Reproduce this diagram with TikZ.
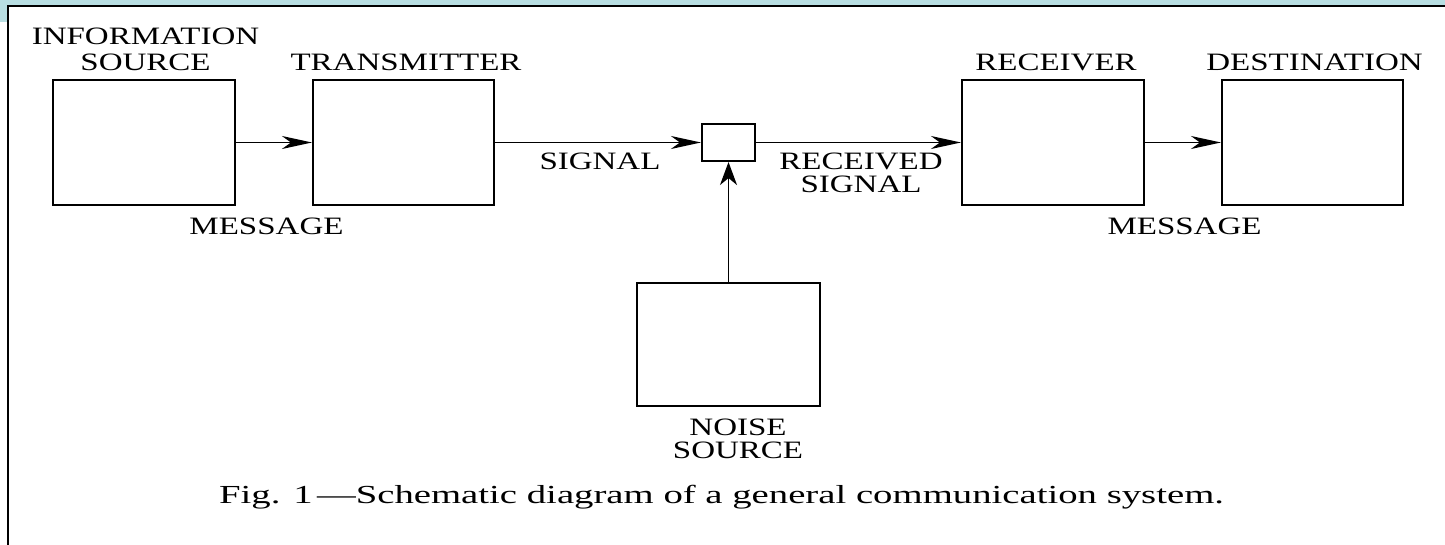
\documentclass[tikz,border=0pt]{standalone}
\usepackage{fontspec}
\setmainfont{Liberation Serif}
\newfontfamily\labelfont[FakeStretch=1.32]{Liberation Serif}
\newfontfamily\captionfont[FakeStretch=1.49]{Liberation Serif}
\usetikzlibrary{arrows.meta, positioning}
\definecolor{framebg}{RGB}{184, 222, 226}
\tikzset{
    block/.style={rectangle, draw, line width=2.1pt, inner sep=0pt, minimum width=182pt, minimum height=125pt},
    tag/.style={inner sep=0pt, anchor=north, align=center, font=\labelfont\fontsize{25}{24}\selectfont}
}

\begin{document}
\begin{tikzpicture}[
    x=1pt, y=-1pt,
    arrow/.style={-{Stealth[length=30pt, width=13pt, inset=9pt]}, line width=1.9pt},
    uparrow/.style={-{Stealth[length=23pt, width=17pt, inset=7pt]}, line width=1.9pt}
]

    % Page and frame
    \useasboundingbox (0,0) rectangle (1445,545);
    \fill[white] (0,0) rectangle (1445,545);
    \fill[framebg] (0,0) rectangle (1445,6);
    \fill[framebg] (0,0) rectangle (8,22);
    \draw[line width=2pt] (8,545) -- (8,6) -- (1445,6);

    % Main chain
    \node[block] (isrc) at (144,142.5) {};
    \node[block, minimum width=181pt] (trans) at (403.5,142.5) {};
    \node[block, minimum width=53pt, minimum height=37pt] (mixer) at (728.5,142.5) {};
    \node[block] (rcv) at (1053,142.5) {};
    \node[block, minimum width=181pt] (dest) at (1312.5,142.5) {};
    \node[block, minimum width=183pt, minimum height=123pt] (noise) at (728.5,344.5) {};

    \draw[arrow] (isrc.east) -- (trans.west);
    \draw[arrow] (trans.east) -- (mixer.west);
    \draw[arrow] (mixer.east) -- (rcv.west);
    \draw[arrow] (rcv.east) -- (dest.west);
    \draw[uparrow] (noise.north) -- (mixer.south);

    % Labels
    \node[tag] (isrclabel) at (145.5,28) {INFORMATION\\[1.7pt]SOURCE};
    \node[tag] (translabel) at (406,54) {TRANSMITTER};
    \node[tag] (rcvlabel) at (1056,54) {RECEIVER};
    \node[tag] (destlabel) at (1314.5,54) {DESTINATION};
    \node[tag] (msgleft) at (266.5,218) {MESSAGE};
    \node[tag] (msgright) at (1184.5,218) {MESSAGE};
    \node[tag] (signal) at (600,153) {SIGNAL};
    \node[tag] (rcvsignal) at (861,153) {RECEIVED\\[-1pt]SIGNAL};
    \node[tag] (noiselabel) at (738,419) {NOISE\\[-1.5pt]SOURCE};

    % Caption
    \node[inner sep=0pt, anchor=north, font=\captionfont\fontsize{26}{30}\selectfont] (caption) at (721.5,485)
        {Fig. 1\,—Schematic diagram of a general communication system.};

\end{tikzpicture}
\end{document}
